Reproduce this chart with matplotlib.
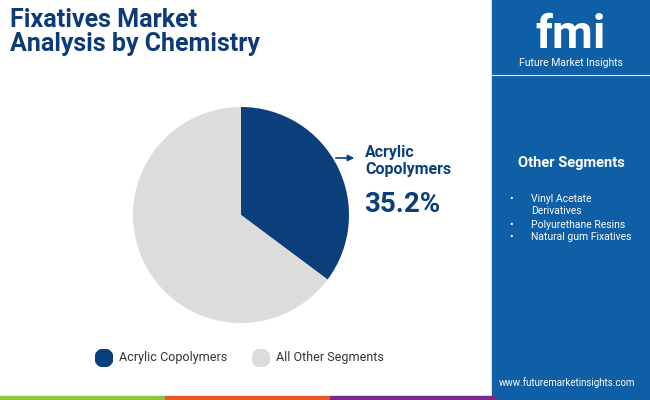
import matplotlib
matplotlib.use("Agg")
import matplotlib.pyplot as plt
from matplotlib.patches import Rectangle, FancyArrowPatch

categories = ["Acrylic Copolymers", "All Other Segments"]
values = [35.2, 64.8]
colors = ["#0b3f7c", "#dcdcdc"]
other_segments = ["Vinyl Acetate\nDerivatives", "Polyurethane Resins", "Natural gum Fixatives"]

W, H = 650, 400
fig = plt.figure(figsize=(6.5, 4), dpi=100)
fig.patch.set_facecolor("white")
FONT = "Roboto"

def px(x, y):
    return x / W, 1 - y / H

fig.patches.append(Rectangle(px(492, 400), 158 / W, 1, transform=fig.transFigure, color="#0f5fa6", zorder=0))
fig.lines.append(plt.Line2D([492 / W, 1], [1 - 75 / H] * 2, transform=fig.transFigure, color="white", lw=0.8))
for x0, c in [(0, "#8cc63f"), (165, "#e8562a"), (330, "#7b2a8c")]:
    fig.patches.append(Rectangle(px(x0, 400), 165 / W, 4 / H, transform=fig.transFigure, color=c))

fig.text(*px(10, 8), "Fixatives Market\nAnalysis by Chemistry", fontsize=18, fontweight="bold",
         color="#0d3b78", va="top", ha="left", family=FONT, linespacing=1.0)

fig.text(*px(571, 35), "fmi", fontsize=34, fontweight="bold", color="white", ha="center", va="center", family=FONT)
fig.text(*px(571, 63), "Future Market Insights", fontsize=7.5, color="white", ha="center", va="center", family=FONT)

fig.text(*px(571, 163), "Other Segments", fontsize=10.5, fontweight="bold", color="white", ha="center", va="center", family=FONT)
ys = [194, 220, 232]
for s, y in zip(other_segments, ys):
    fig.text(*px(509, y), "•", fontsize=7.5, color="white", va="top", family=FONT)
    fig.text(*px(531, y), s, fontsize=7.5, color="white", va="top", family=FONT, linespacing=1.25)
fig.text(*px(567, 383), "www.futuremarketinsights.com", fontsize=7, color="white", ha="center", va="center", family=FONT)

r = 108
ax = fig.add_axes([(241 - r) / W, 1 - (215 + r) / H, 2 * r / W, 2 * r / H])
ax.pie(values, colors=colors, startangle=90, counterclock=False, radius=1)
ax.set_xlim(-1, 1); ax.set_ylim(-1, 1); ax.set_aspect("auto"); ax.axis("off")

fig.patches.append(FancyArrowPatch(px(333, 158), px(357, 158), transform=fig.transFigure,
                                   arrowstyle="-|>", mutation_scale=9, color="#0b3f7c", lw=1.2))
fig.text(*px(365, 161), "Acrylic\nCopolymers", fontsize=11.5, fontweight="bold", color="#0b3f7c",
         va="center", ha="left", family=FONT, linespacing=1.15)
fig.text(*px(364, 205), f"{values[0]}%", fontsize=20, fontweight="bold", color="#0b3f7c",
         va="center", ha="left", family=FONT)

for (x, t), c in zip([(104, categories[0]), (261, categories[1])], colors):
    ax2 = fig.add_axes([(x - 9) / W, 1 - (358 + 9) / H, 18 / W, 18 / H])
    ax2.add_patch(plt.Circle((0, 0), 1, color=c)); ax2.set_xlim(-1, 1); ax2.set_ylim(-1, 1); ax2.axis("off")
    fig.text(*px(x + 15, 358), t, fontsize=9, color="#333333", va="center", family=FONT)

fig.savefig("out.png", dpi=100)
